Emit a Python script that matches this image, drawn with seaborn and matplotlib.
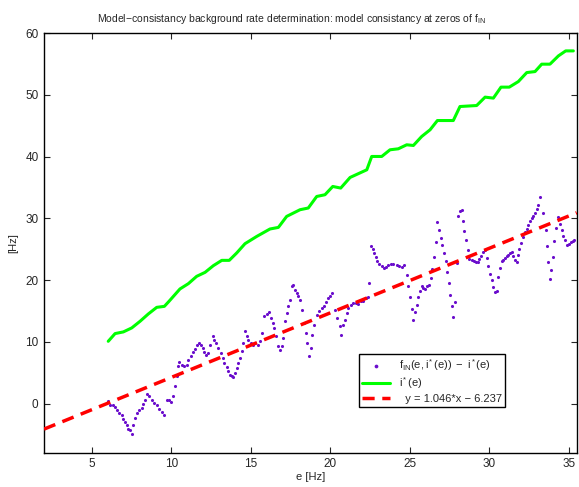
import numpy as np
import pandas as pd
import matplotlib
matplotlib.use('Agg')
import matplotlib.pyplot as plt
import seaborn as sns

# --- data ---
# green curve i*(e)
green_e = [6.04, 6.47, 6.99, 7.52, 8.04, 8.56, 9.09, 9.57, 9.86, 10.55, 11.08, 11.60,
           12.13, 12.65, 13.18, 13.65, 14.12, 14.64, 15.38, 16.21, 16.74, 17.26, 17.89,
           18.10, 18.62, 19.15, 19.67, 20.16, 20.66, 21.25, 22.30, 22.61, 23.24, 23.76,
           24.28, 24.81, 25.23, 25.75, 26.28, 26.74, 27.74, 28.16, 29.21, 29.74, 30.26,
           30.74, 31.26, 31.83, 32.36, 32.88, 33.30, 33.82, 34.35, 34.81, 35.29]
green_y = [10.08, 11.33, 11.60, 12.25, 13.32, 14.51, 15.58, 15.74, 16.55, 18.56, 19.42, 20.60,
           21.25, 22.33, 23.19, 23.19, 24.39, 25.89, 27.07, 28.27, 28.53, 30.31, 31.12,
           31.39, 31.67, 33.54, 33.82, 35.16, 34.90, 36.62, 37.86, 40.02, 40.02, 41.10,
           41.26, 41.91, 41.80, 43.25, 44.34, 45.84, 45.84, 48.11, 48.27, 49.63, 49.47,
           51.25, 51.25, 52.15, 53.61, 53.77, 54.97, 54.97, 56.31, 57.12, 57.12]

# purple dots f_IN(e, i*(e)) - i*(e)
dot_e = [6.04, 6.15, 6.32, 6.47, 6.57, 6.74, 6.89, 6.99, 7.11, 7.20, 7.30, 7.41, 7.52,
         7.62, 7.72, 7.87, 7.99, 8.14, 8.25, 8.35, 8.50, 8.62, 8.77, 8.92, 9.09, 9.23,
         9.40, 9.55, 9.75, 9.88, 9.99, 10.13, 10.24, 10.35, 10.45, 10.51, 10.66, 10.81,
         10.97, 11.08, 11.23, 11.39, 11.50, 11.64, 11.77, 11.86, 11.98, 12.06, 12.19,
         12.33, 12.44, 12.61, 12.69, 12.82, 12.96, 13.11, 13.24, 13.34, 13.49, 13.59,
         13.70, 13.81, 13.91, 14.01, 14.12, 14.22, 14.33, 14.43, 14.53, 14.64, 14.75,
         14.85, 15.00, 15.13, 15.27, 15.44, 15.58, 15.69, 15.84, 16.01, 16.17, 16.26,
         16.38, 16.47, 16.59, 16.74, 16.84, 16.95, 17.05, 17.16, 17.26, 17.37, 17.47,
         17.58, 17.68, 17.79, 17.89, 17.99, 18.10, 18.21, 18.35, 18.46, 18.56, 18.67,
         18.77, 18.84, 18.98, 19.15, 19.32, 19.47, 19.61, 19.74, 19.88, 19.99, 20.09,
         20.30, 20.45, 20.62, 20.68, 20.82, 20.93, 21.04, 21.14, 21.31, 21.45, 21.62,
         21.77, 21.92, 22.08, 22.25, 22.40, 22.46, 22.55, 22.67, 22.75, 22.88, 22.96,
         23.09, 23.24, 23.38, 23.51, 23.66, 23.81, 23.97, 24.18, 24.35, 24.50, 24.64,
         24.81, 24.91, 25.02, 25.13, 25.23, 25.33, 25.44, 25.54, 25.65, 25.75, 25.86,
         25.96, 26.11, 26.23, 26.32, 26.42, 26.53, 26.64, 26.74, 26.84, 26.95, 27.05,
         27.16, 27.26, 27.37, 27.47, 27.53, 27.64, 27.74, 27.85, 27.96, 28.06, 28.16,
         28.27, 28.33, 28.43, 28.54, 28.65, 28.75, 28.90, 29.04, 29.17, 29.28, 29.36,
         29.47, 29.59, 29.74, 29.84, 29.94, 30.05, 30.16, 30.26, 30.36, 30.47, 30.57,
         30.68, 30.79, 30.89, 31.00, 31.10, 31.20, 31.31, 31.42, 31.52, 31.62, 31.73,
         31.83, 31.89, 32.00, 32.11, 32.25, 32.36, 32.46, 32.57, 32.67, 32.77, 32.88,
         32.99, 33.09, 33.19, 33.40, 33.55, 33.62, 33.68, 33.82, 33.89, 33.99, 34.10,
         34.20, 34.31, 34.45, 34.56, 34.66, 34.77, 34.87, 35.02, 35.14, 35.25, 35.33]
dot_y = [0.37, -0.16, -0.32, -0.54, -0.97, -1.51, -1.94, -2.48, -3.02, -3.56, -4.10, -4.32, -4.91,
         -3.40, -2.32, -1.51, -0.97, -0.70, 0.00, 0.65, 1.62, 1.19, 0.65, 0.11, -0.32, -0.86,
         -1.40, -1.78, 0.49, 0.53, 0.21, 1.29, 2.80, 4.42, 6.04, 6.74, 6.31, 6.04,
         6.31, 7.01, 7.66, 8.30, 8.85, 9.55, 9.82, 9.55, 9.01, 8.30, 7.93,
         8.20, 9.55, 10.89, 10.36, 9.82, 9.01, 8.20, 7.39, 6.59, 5.94, 5.23,
         4.69, 4.42, 4.26, 4.97, 5.78, 6.59, 7.39, 8.46, 9.82, 11.70, 10.89,
         10.36, 9.82, 9.55, 9.82, 9.55, 10.08, 11.44, 14.13, 14.56, 14.77, 13.87,
         13.06, 12.25, 10.89, 9.27, 8.74, 9.27, 10.63, 13.32, 14.68, 15.74, 16.83,
         18.98, 19.26, 18.45, 17.91, 17.36, 16.83, 15.21, 13.06, 11.44, 9.82, 7.65,
         9.01, 11.17, 12.78, 14.40, 14.94, 15.49, 15.86, 16.39, 17.10, 17.48, 17.91,
         15.21, 13.87, 12.51, 11.17, 12.78, 13.59, 14.68, 15.49, 16.02, 16.29, 16.29,
         16.13, 16.55, 16.67, 17.10, 17.26, 19.53, 25.45, 25.03, 24.39, 23.74, 23.03,
         22.65, 22.22, 21.96, 22.06, 22.49, 22.61, 22.65, 22.49, 22.22, 22.06, 22.49,
         20.87, 18.98, 17.26, 15.32, 13.48, 14.77, 16.02, 17.26, 18.17, 18.98, 18.72,
         18.56, 18.98, 19.26, 20.34, 21.80, 23.74, 26.17, 29.40, 28.16, 26.81, 25.62,
         24.39, 23.03, 21.25, 19.53, 17.64, 15.86, 14.03, 16.39, 22.77, 30.31, 31.12,
         31.28, 29.61, 27.99, 26.42, 24.92, 23.41, 23.30, 23.14, 22.93, 22.86, 23.41,
         23.83, 24.48, 24.92, 23.58, 22.22, 21.04, 19.95, 18.88, 18.01, 18.17, 20.50,
         21.96, 23.03, 23.30, 23.58, 23.83, 24.11, 24.39, 24.48, 23.83, 23.30, 22.86,
         24.00, 25.03, 26.00, 26.97, 27.72, 28.27, 28.85, 29.50, 30.05, 30.42, 30.86,
         31.50, 32.20, 33.45, 30.86, 28.16, 25.57, 22.86, 20.18, 21.68, 23.68, 26.38,
         28.43, 30.21, 29.13, 28.16, 27.18, 26.42, 25.73, 25.89, 26.10, 26.33, 26.54]

# linear fit
fit_slope = 1.046
fit_icept = -6.237
fit_e = [2.0, 35.5]
fit_y = [fit_slope * x + fit_icept for x in fit_e]

x_ticks = [5, 10, 15, 20, 25, 30, 35]
y_ticks = [0, 10, 20, 30, 40, 50, 60]

dots_df = pd.DataFrame({'e': dot_e, 'y': dot_y})
green_df = pd.DataFrame({'e': green_e, 'y': green_y})
fit_df = pd.DataFrame({'e': fit_e, 'y': fit_y})

# --- plot ---
sns.set_style('ticks')
plt.rcParams['font.family'] = ['Liberation Sans', 'DejaVu Sans']
plt.rcParams['mathtext.fontset'] = 'custom'
plt.rcParams['mathtext.rm'] = 'Liberation Sans'
plt.rcParams['mathtext.it'] = 'Liberation Sans'

fig = plt.figure(figsize=(5.79, 4.87), dpi=100)
ax = fig.add_axes([0.076, 0.070, 0.920, 0.862])

sns.scatterplot(data=dots_df, x='e', y='y', ax=ax, color='#6a0dcc', s=5,
                linewidth=0, marker='o', label=r'$\mathrm{f_{IN}(e,i^*(e))\ -\ i^*(e)}$', zorder=3)
sns.lineplot(data=green_df, x='e', y='y', ax=ax, color='#00ff00', linewidth=2.2,
             label=r'$\mathrm{i^*(e)}$', sort=False, zorder=2)
sns.lineplot(data=fit_df, x='e', y='y', ax=ax, color='#ff0000', linewidth=2.5,
             dashes=False, label='  y = 1.046*x \u2212 6.237', zorder=4)
ax.lines[-1].set_linestyle((0, (3.5, 2.2)))

ax.set_xlim(2, 35.5)
ax.set_ylim(-8, 60)
ax.set_xticks(x_ticks)
ax.set_yticks(y_ticks)
ax.tick_params(direction='in', top=True, right=True, length=4, width=0.8, labelsize=8.5, pad=4)
for sp in ax.spines.values():
    sp.set_visible(True)
    sp.set_linewidth(1.0)
    sp.set_color('black')

ax.set_xlabel('e [Hz]', fontsize=8, labelpad=1)
ax.set_ylabel('[Hz]', fontsize=8, labelpad=5)
ax.set_title(r'Model$\mathrm{-}$consistancy background rate determination: model consistancy at zeros of $\mathrm{f_{IN}}$',
             fontsize=7.5, pad=8, x=0.465)

leg = ax.legend(loc='lower left', bbox_to_anchor=(0.58, 0.095), fontsize=8, frameon=True,
                fancybox=False, framealpha=1, edgecolor='black', handlelength=2.5,
                borderpad=0.3, labelspacing=0.25, markerscale=1.2)
leg.get_frame().set_linewidth(1.0)

plt.savefig('out.png', dpi=100)
